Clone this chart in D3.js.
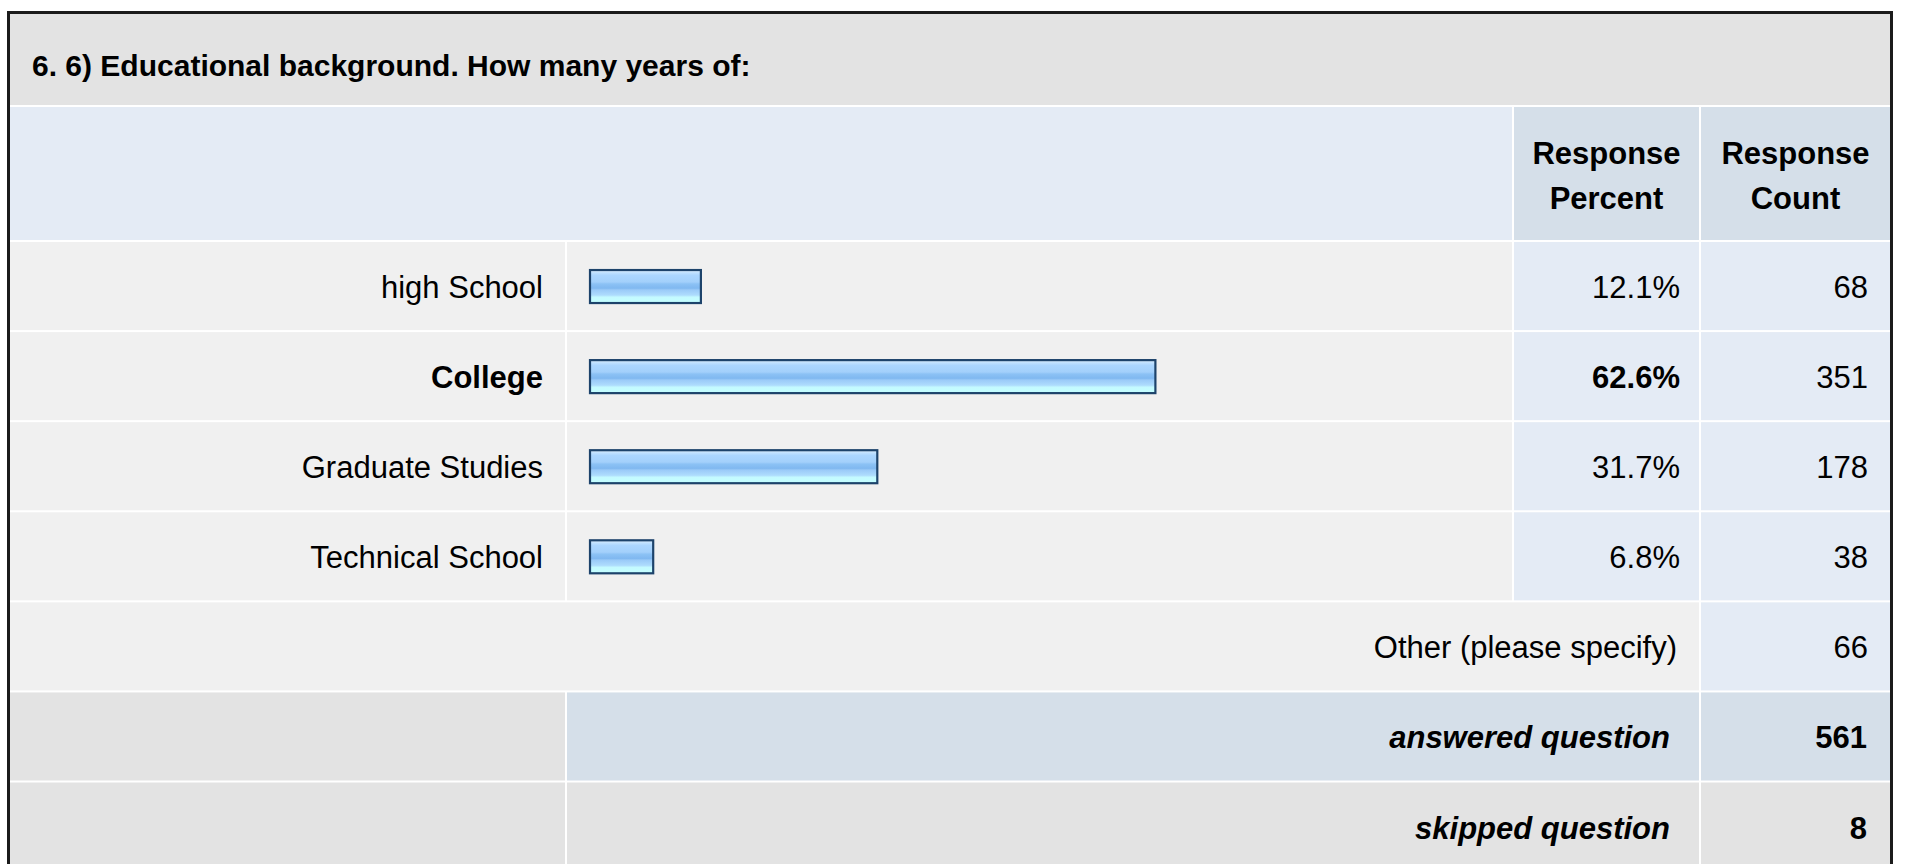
<!DOCTYPE html>
<html>
<head>
<meta charset="utf-8">
<script src="https://cdn.jsdelivr.net/npm/d3@7"></script>
<style>
  html, body { margin: 0; padding: 0; background: #fff; overflow: hidden; }
  text { font-family: "Liberation Sans", Arial, Helvetica, sans-serif; fill: #000; }
</style>
</head>
<body>
<script>
// question + table data
var title = "6. 6) Educational background. How many years of:";
var headers = [["Response", "Percent"], ["Response", "Count"]];
var categories = ["high School", "College", "Graduate Studies", "Technical School"];
var percents = [12.1, 62.6, 31.7, 6.8];
var counts = [68, 351, 178, 38];
var otherLabel = "Other (please specify)";
var otherCount = 66;
var summaryLabels = ["answered question", "skipped question"];
var summaryCounts = [561, 8];

const W = 1907, H = 864;
const fs = 31;

// column edges (table layout)
const left = 10, right = 1890;
const colLabel = [left, 565];
const colBar   = [567, 1512];
const colPct   = [1514, 1699];
const colCnt   = [1701, right];

const svg = d3.select("body")
  .append("svg")
  .attr("width", W)
  .attr("height", H);

// gradient for the glossy bars
var defs = svg.append("defs");
var grad = defs.append("linearGradient")
  .attr("id", "barGrad")
  .attr("x1", 0).attr("y1", 0).attr("x2", 0).attr("y2", 1);
[[0, "#e4f3ff"], [0.08, "#c0e1ff"], [0.16, "#abd6ff"], [0.36, "#a3d0fb"],
 [0.42, "#8cc2f5"], [0.55, "#80b8f0"], [0.6, "#9acaf8"], [0.76, "#aedcfd"],
 [0.82, "#c4faff"], [1, "#c4ffff"]].forEach(function(s) {
  grad.append("stop").attr("offset", s[0]).attr("stop-color", s[1]);
});

// outer frame
svg.append("rect")
  .attr("x", 8.5).attr("y", 12.5)
  .attr("width", 1883).attr("height", 900)
  .attr("fill", "#fff")
  .attr("stroke", "#1b1b1b")
  .attr("stroke-width", 3);

// title band
svg.append("rect")
  .attr("x", left).attr("y", 14)
  .attr("width", right - left).attr("height", 91)
  .attr("fill", "#e3e3e3");
svg.append("text")
  .attr("x", 32).attr("y", 76)
  .attr("font-size", 30).attr("font-weight", "bold")
  .text(title);

// header row
function cell(x0, x1, y0, h, fill) {
  svg.append("rect")
    .attr("x", x0).attr("y", y0)
    .attr("width", x1 - x0).attr("height", h)
    .attr("fill", fill);
}
cell(colLabel[0], colBar[1], 107, 133, "#e4ebf5");
cell(colPct[0], colPct[1], 107, 133, "#d5dfe9");
cell(colCnt[0], colCnt[1], 107, 133, "#d5dfe9");
[colPct, colCnt].forEach(function(c, i) {
  var t = svg.append("text")
    .attr("x", (c[0] + c[1]) / 2)
    .attr("text-anchor", "middle")
    .attr("font-size", fs).attr("font-weight", "bold");
  headers[i].forEach(function(line, j) {
    t.append("tspan").attr("x", (c[0] + c[1]) / 2).attr("y", 164 + j * 45).text(line);
  });
});

// rows
var rowKeys = categories.concat(["other"], summaryLabels);
var y = d3.scaleBand()
  .domain(rowKeys)
  .range([242, 242 + rowKeys.length * 89.8])
  .paddingInner(2 / 89.8)
  .paddingOuter(0);

var x = d3.scaleLinear()
  .domain([0, 100])
  .range([589, 1489]);

var maxPct = d3.max(percents);
var rows = categories.map(function(c, i) {
  return { label: c, pct: percents[i], count: counts[i], bold: percents[i] === maxPct };
});

var g = svg.selectAll(".row")
  .data(rows)
  .enter()
  .append("g")
  .attr("class", "row")
  .attr("transform", function(d) { return "translate(0," + y(d.label) + ")"; });

var bh = y.bandwidth();
g.append("rect").attr("x", colLabel[0]).attr("width", colLabel[1] - colLabel[0]).attr("height", bh).attr("fill", "#f0f0f0");
g.append("rect").attr("x", colBar[0]).attr("width", colBar[1] - colBar[0]).attr("height", bh).attr("fill", "#f0f0f0");
g.append("rect").attr("x", colPct[0]).attr("width", colPct[1] - colPct[0]).attr("height", bh).attr("fill", "#e4ebf5");
g.append("rect").attr("x", colCnt[0]).attr("width", colCnt[1] - colCnt[0]).attr("height", bh).attr("fill", "#e4ebf5");

// bars
g.append("rect")
  .attr("x", x(0) + 1)
  .attr("y", bh / 2 - 16)
  .attr("width", function(d) { return x(d.pct) - x(0) + 2; })
  .attr("height", 33)
  .attr("fill", "url(#barGrad)")
  .attr("stroke", "#1d436b")
  .attr("stroke-width", 2.2);

g.append("text")
  .attr("x", colLabel[1] - 22)
  .attr("y", bh / 2 + 12)
  .attr("text-anchor", "end")
  .attr("font-size", fs)
  .attr("font-weight", function(d) { return d.bold ? "bold" : "normal"; })
  .text(function(d) { return d.label; });

g.append("text")
  .attr("x", colPct[1] - 19)
  .attr("y", bh / 2 + 12)
  .attr("text-anchor", "end")
  .attr("font-size", fs)
  .attr("font-weight", function(d) { return d.bold ? "bold" : "normal"; })
  .text(function(d) { return d.pct.toFixed(1) + "%"; });

g.append("text")
  .attr("x", colCnt[1] - 22)
  .attr("y", bh / 2 + 12)
  .attr("text-anchor", "end")
  .attr("font-size", fs)
  .text(function(d) { return d.count; });

// other row
var yo = y("other");
cell(colLabel[0], colPct[1], yo, bh, "#f0f0f0");
cell(colCnt[0], colCnt[1], yo, bh, "#e4ebf5");
svg.append("text")
  .attr("x", colPct[1] - 22).attr("y", yo + bh / 2 + 12)
  .attr("text-anchor", "end").attr("font-size", fs)
  .text(otherLabel);
svg.append("text")
  .attr("x", colCnt[1] - 22).attr("y", yo + bh / 2 + 12)
  .attr("text-anchor", "end").attr("font-size", fs)
  .text(otherCount);

// answered / skipped
var sumFill = [["#e3e3e3", "#d5dfe9"], ["#e3e3e3", "#e3e3e3"]];
summaryLabels.forEach(function(lbl, i) {
  var ys = y(lbl);
  cell(colLabel[0], colLabel[1], ys, bh, sumFill[i][0]);
  cell(colBar[0], colPct[1], ys, bh, sumFill[i][1]);
  cell(colCnt[0], colCnt[1], ys, bh, sumFill[i][1]);
  svg.append("text")
    .attr("x", colPct[1] - 29).attr("y", ys + bh / 2 + 12)
    .attr("text-anchor", "end").attr("font-size", fs)
    .attr("font-weight", "bold").attr("font-style", "italic")
    .text(lbl);
  svg.append("text")
    .attr("x", colCnt[1] - 23).attr("y", ys + bh / 2 + 12)
    .attr("text-anchor", "end").attr("font-size", fs)
    .attr("font-weight", "bold")
    .text(summaryCounts[i]);
});
</script>
</body>
</html>
